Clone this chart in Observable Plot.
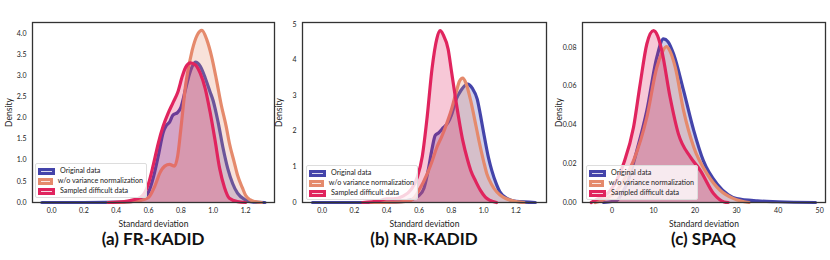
<!DOCTYPE html>
<html><head><meta charset="utf-8">
<script src="https://cdn.jsdelivr.net/npm/d3@7"></script>
<script src="https://cdn.jsdelivr.net/npm/@observablehq/plot@0.6"></script>
<style>
body{margin:0;background:#fff;font-family:Lato,sans-serif;}
#wrap{position:relative;width:830px;height:260px;overflow:hidden;}
.panel{position:absolute;top:0;}
.cap{position:absolute;top:228px;font-family:Lato,sans-serif;font-weight:700;font-size:17px;color:#111;text-align:center;width:260px;}
.leg{position:absolute;background:rgba(255,255,255,0.8);border:1px solid #ddd;border-radius:2px;font-size:7.2px;color:#222;padding:2px 3px 1px 2px;line-height:10px;}
.leg div{display:flex;align-items:center;white-space:nowrap;}
.leg span.p{display:inline-block;width:17px;height:7px;margin-right:5px;position:relative;}
.leg span.p::after{content:"";position:absolute;left:3px;right:3px;top:3px;height:1px;background:rgba(255,255,255,0.8);}
</style></head>
<body><div id="wrap"></div>
<script>
const seriesNames = ["Original data", "w/o variance normalization", "Sampled difficult data"];
const colors = ["#4444aa", "#e58a6c", "#e0245e"];
const captions = ["(a) FR-KADID", "(b) NR-KADID", "(c) SPAQ"];

// (a) FR-KADID
const frOrigX = [-0.06,0.2,0.45,0.55,0.6,0.63,0.66,0.69,0.71,0.73,0.75,0.78,0.8,0.83,0.86,0.89,0.92,0.95,0.98,1.0,1.03,1.06,1.09,1.12,1.15,1.2,1.25,1.32];
const frOrigY = [0,0,0.01,0.06,0.25,0.6,1.1,1.65,1.82,1.9,2.06,2.13,2.25,2.7,3.12,3.32,3.22,2.95,2.62,2.4,1.9,1.3,0.8,0.45,0.22,0.06,0.01,0];
const frNoNormX = [0.35,0.45,0.55,0.6,0.64,0.67,0.7,0.73,0.76,0.78,0.8,0.83,0.87,0.9,0.93,0.96,0.99,1.02,1.05,1.08,1.1,1.13,1.15,1.18,1.2,1.23,1.26,1.3];
const frNoNormY = [0,0.01,0.05,0.12,0.4,0.7,0.86,0.9,0.86,1.1,1.75,2.8,3.6,3.95,4.07,3.85,3.45,2.9,2.3,1.8,1.4,0.95,0.65,0.35,0.17,0.06,0.02,0];
const frHardX = [0.35,0.45,0.5,0.55,0.6,0.63,0.66,0.69,0.72,0.75,0.78,0.81,0.83,0.86,0.89,0.92,0.95,0.98,1.01,1.04,1.07,1.1,1.15,1.2];
const frHardY = [0,0.02,0.06,0.12,0.45,0.9,1.4,1.8,2.1,2.35,2.6,3.0,3.2,3.3,3.25,3.05,2.7,2.15,1.5,0.8,0.35,0.1,0.02,0];

// (b) NR-KADID
const nrOrigX = [-0.06,0.3,0.45,0.55,0.6,0.63,0.66,0.68,0.7,0.72,0.75,0.78,0.8,0.83,0.86,0.9,0.93,0.96,0.98,1.0,1.03,1.05,1.08,1.1,1.15,1.2,1.32];
const nrOrigY = [0,0,0.01,0.08,0.2,0.4,0.99,1.5,1.88,1.95,2.1,2.25,2.45,2.9,3.15,3.32,3.2,2.9,2.45,1.95,1.25,0.9,0.5,0.3,0.1,0.03,0];
const nrNoNormX = [0.3,0.45,0.55,0.6,0.65,0.68,0.71,0.74,0.77,0.8,0.83,0.85,0.87,0.89,0.92,0.95,0.97,1.0,1.02,1.05,1.08,1.12,1.18,1.25];
const nrNoNormY = [0,0.01,0.06,0.35,0.8,1.15,1.55,1.85,2.2,2.6,3.1,3.4,3.49,3.35,2.85,2.2,1.75,1.15,0.8,0.5,0.3,0.15,0.05,0];
const nrHardX = [0.25,0.35,0.4,0.44,0.5,0.55,0.59,0.62,0.65,0.68,0.71,0.73,0.75,0.78,0.8,0.83,0.87,0.9,0.92,0.95,0.98,1.01,1.04,1.08];
const nrHardY = [0,0.05,0.1,0.1,0.18,0.36,0.72,1.3,2.4,3.75,4.6,4.82,4.7,4.3,3.7,2.8,1.75,1.2,0.9,0.6,0.34,0.15,0.06,0];

// (c) SPAQ
const spOrigX = [-2,0,1.2,2.5,3.6,6,8.4,10.8,12.4,13.5,14.85,17.25,19.7,22,25.3,28,30,35,40,49];
const spOrigY = [0,0.0005,0.001,0.005,0.0096,0.0268,0.0474,0.0749,0.0844,0.083,0.0766,0.0577,0.0371,0.0216,0.0096,0.004,0.002,0.0008,0.0004,0];
const spNoNormX = [-4,-2.5,1.2,3,5.2,8.4,10.8,12,13.1,14,15.25,17.25,19.7,22.9,26.1,29.3,33];
const spNoNormY = [0,0.001,0.0062,0.012,0.0216,0.044,0.0697,0.077,0.0804,0.078,0.0697,0.0474,0.0285,0.0148,0.0062,0.002,0];
const spHardX = [-5,-4.2,-0.4,2.8,5.2,6.8,8.4,10,11,12,14,16,18.9,21.3,24.5,27,28];
const spHardY = [0,0.001,0.0062,0.02,0.0388,0.0612,0.0818,0.0887,0.086,0.0784,0.0543,0.0354,0.0234,0.0165,0.0045,0.0003,0];

const xTicksA = [0,0.2,0.4,0.6,0.8,1.0,1.2];
const yTicksA = [0,0.5,1,1.5,2,2.5,3,3.5,4];
const yTicksB = [0,1,2,3,4,5];
const xTicksC = [0,10,20,30,40,50];
const yTicksC = [0,0.02,0.04,0.06,0.08];

const panels = [
  {left:0, width:280, ml:32, mr:6, xd:[-0.118,1.379], yd:[0,4.255], xt:xTicksA, yt:yTicksA, xf:d3.format(".1f"), yf:d3.format(".1f"),
   s:[[frOrigX,frOrigY],[frNoNormX,frNoNormY],[frHardX,frHardY]], leg:{l:35,t:163,w:105}},
  {left:270, width:280, ml:32, mr:4, xd:[-0.122,1.389], yd:[0,5.05], xt:xTicksA, yt:yTicksB, xf:d3.format(".1f"), yf:d3.format("d"),
   s:[[nrOrigX,nrOrigY],[nrNoNormX,nrNoNormY],[nrHardX,nrHardY]], leg:{l:306,t:165,w:105}},
  {left:550, width:280, ml:32, mr:5, xd:[-7.08,51.4], yd:[0,0.0929], xt:xTicksC, yt:yTicksC, xf:d3.format("d"), yf:d3.format(".2f"),
   s:[[spOrigX,spOrigY],[spNoNormX,spNoNormY],[spHardX,spHardY]], leg:{l:586,t:165,w:105}}
];
const fillOp = [0.25, 0.25, 0.25];
const wrap = document.getElementById("wrap");
panels.forEach((p, i) => {
  const marks = [];
  p.s.forEach(([xs, ys], k) => {
    const data = xs.map((x, j) => ({x, y: ys[j]}));
    marks.push(Plot.areaY(data, {x:"x", y:"y", fill:colors[k], fillOpacity:fillOp[k], curve:"monotone-x"}));
    marks.push(Plot.lineY(data, {x:"x", y:"y", stroke:colors[k], strokeWidth:3.2, curve:"monotone-x", strokeLinejoin:"round"}));
  });
  marks.push(Plot.frame({stroke:"#333", strokeWidth:1.3}));
  const chart = Plot.plot({
    width:p.width, height:228, marginLeft:p.ml, marginRight:p.mr, marginTop:22, marginBottom:26,
    style:{fontFamily:"Lato, sans-serif", fontSize:"7px", color:"#222", background:"transparent", overflow:"visible"},
    x:{domain:p.xd, ticks:p.xt, tickFormat:p.xf, tickSize:0, tickPadding:6, label:"Standard deviation", labelAnchor:"center", labelArrow:"none", labelOffset:24},
    y:{domain:p.yd, ticks:p.yt, tickFormat:p.yf, tickSize:0, tickPadding:6, label:"Density", labelAnchor:"center", labelArrow:"none", labelOffset:27},
    marks
  });
  chart.querySelectorAll("g[aria-label='x-axis label'] text, g[aria-label='y-axis label'] text").forEach(t => t.style.fontSize = "8.5px");
  const d = document.createElement("div");
  d.className = "panel"; d.style.left = p.left + "px";
  d.appendChild(chart); wrap.appendChild(d);
  const c = document.createElement("div");
  c.className = "cap"; c.textContent = captions[i];
  c.style.left = (p.left + p.ml + (p.width - p.ml - p.mr)/2 - 130) + "px";
  wrap.appendChild(c);
  const lg = document.createElement("div");
  lg.className = "leg"; lg.style.left = p.leg.l + "px"; lg.style.top = p.leg.t + "px"; lg.style.width = p.leg.w + "px";
  seriesNames.forEach((n, k) => {
    const r = document.createElement("div");
    const sw = document.createElement("span"); sw.className = "p"; sw.style.background = colors[k];
    r.appendChild(sw); r.appendChild(document.createTextNode(n)); lg.appendChild(r);
  });
  wrap.appendChild(lg);
});
</script></body></html>
